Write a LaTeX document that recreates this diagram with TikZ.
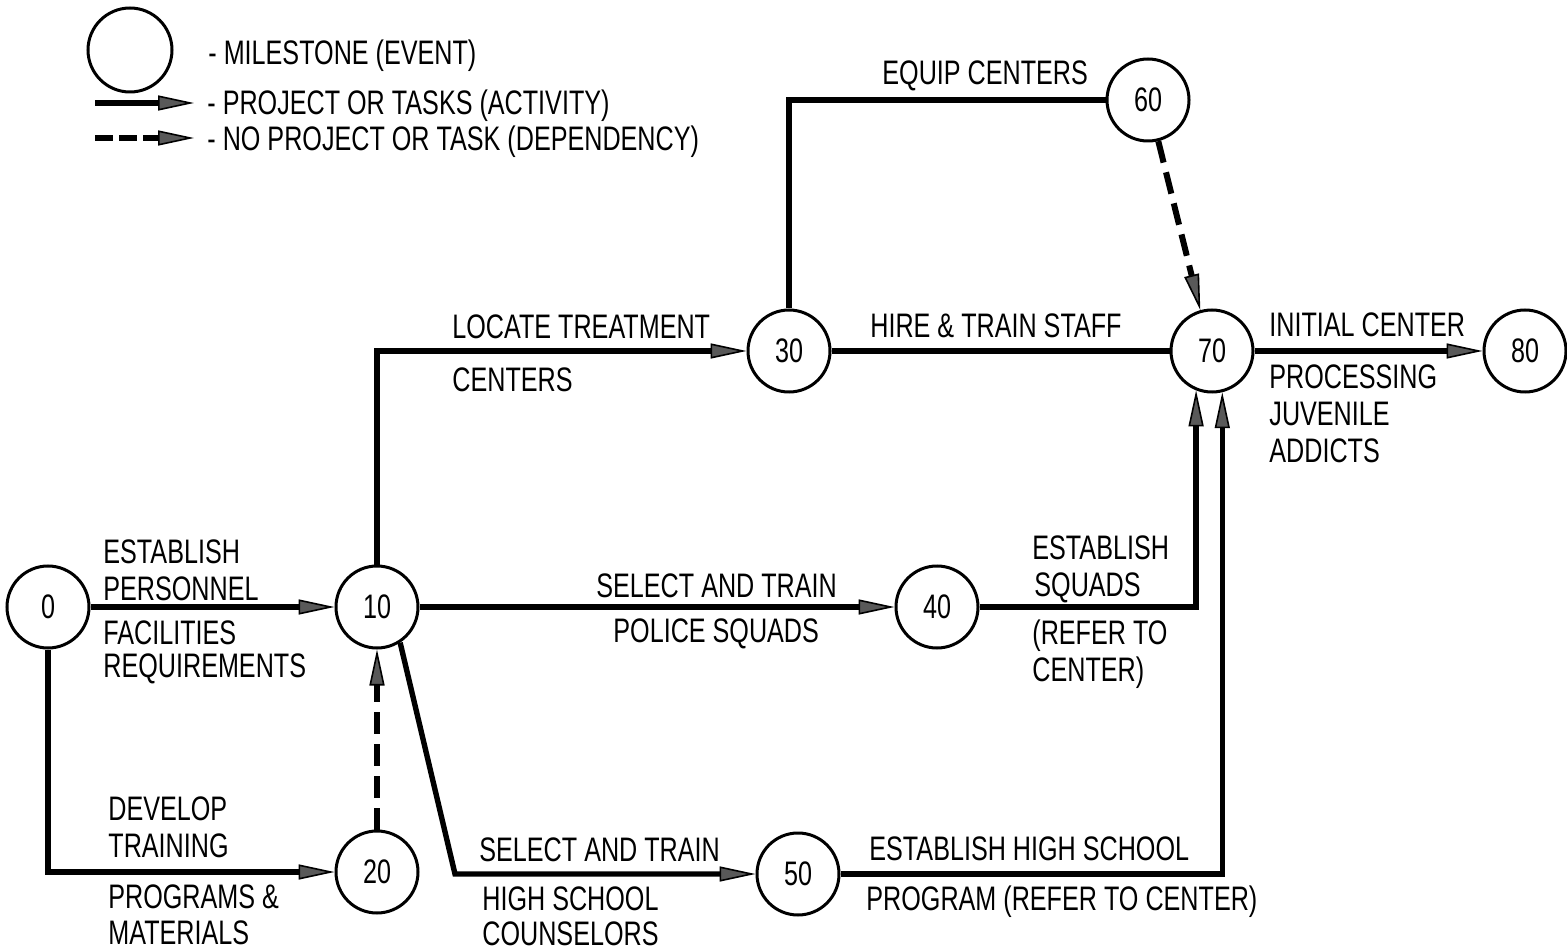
\documentclass[tikz,border=0pt]{standalone}
\usepackage{fontspec}
\setmainfont{Liberation Sans}[FakeStretch=0.74]
\usetikzlibrary{arrows.meta}
\newcommand\labfont{\fontsize{17pt}{20pt}\selectfont}
\begin{document}
\begin{tikzpicture}[x=0.5pt,y=-0.5pt,
  ev/.style={circle,draw,line width=1.5pt,minimum size=41pt,inner sep=0pt,font=\labfont},
  lab/.style={inner sep=0pt,anchor=base west,font=\labfont},
  arr/.style={-{Triangle[length=18pt,width=7.5pt,fill=black!65,line width=0.8pt]}},
  act/.style={line width=2.7pt,arr},
  actn/.style={line width=2.7pt},
  dep/.style={line width=3pt,dash pattern=on 11pt off 5pt,arr},
]
\useasboundingbox (0,0) rectangle (1567,951);

% legend
\node[ev,minimum size=42pt] (lgev) at (130,50) {};
\coordinate (la1) at (95,103); \coordinate (la2) at (194,103);
\coordinate (ld1) at (95,138); \coordinate (ld2) at (194,138);
\draw[act] (la1) -- (la2);
\draw[dep,dash pattern=on 9pt off 3pt] (ld1) -- (ld2);
\node[lab] (lg1) at (208,65) {- MILESTONE (EVENT)};
\node[lab] (lg2) at (207,115) {- PROJECT OR TASKS (ACTIVITY)};
\node[lab] (lg3) at (207,151) {- NO PROJECT OR TASK (DEPENDENCY)};

% events
\node[ev] (n0) at (48,607) {0};
\node[ev] (n10) at (377,607) {10};
\node[ev] (n20) at (377,872) {20};
\node[ev] (n30) at (789,351) {30};
\node[ev] (n40) at (937,607) {40};
\node[ev] (n50) at (798,874) {50};
\node[ev] (n60) at (1148,100) {60};
\node[ev] (n70) at (1212,351) {70};
\node[ev] (n80) at (1525,351) {80};

% activities
\draw[act] (n0) -- (n10);
\draw[act] (n0) |- (n20);
\draw[dep] (n20) -- (n10);
\draw[act] (n10) |- (n30);
\draw[act] (n10) -- (n40);
\coordinate (k50) at (455,874);
\draw[act] (n10.-57) -- (k50) -- (n50);
\draw[actn] (n30) |- (n60);
\draw[actn] (n30) -- (n70);
\draw[dep] (n60.-76) -- (n70.106);
\draw[act] (n40) -| (n70.248);
\draw[act] (n50) -| (n70.284);
\draw[act] (n70) -- (n80);

% labels
\node[lab] (t1) at (103,563) {ESTABLISH};
\node[lab] (t2) at (103,600) {PERSONNEL};
\node[lab] (t3) at (103,644) {FACILITIES};
\node[lab] (t4) at (103,677) {REQUIREMENTS};
\node[lab] (t5) at (108,820) {DEVELOP};
\node[lab] (t6) at (108,857) {TRAINING};
\node[lab] (t7) at (108,908) {PROGRAMS \&};
\node[lab] (t8) at (108,944) {MATERIALS};
\node[lab] (t9) at (452,339) {LOCATE TREATMENT};
\node[lab] (t10) at (452,392) {CENTERS};
\node[lab] (t11) at (882,85) {EQUIP CENTERS};
\node[lab] (t12) at (870,338) {HIRE \& TRAIN STAFF};
\node[lab] (t13) at (1269,337) {INITIAL CENTER};
\node[lab] (t14) at (1269,389) {PROCESSING};
\node[lab] (t15) at (1269,426) {JUVENILE};
\node[lab] (t16) at (1269,463) {ADDICTS};
\node[lab] (t17) at (596,597) {SELECT AND TRAIN};
\node[lab] (t18) at (613,642) {POLICE SQUADS};
\node[lab] (t19) at (1032,559) {ESTABLISH};
\node[lab] (t20) at (1034,596) {SQUADS};
\node[lab] (t21) at (1032,644) {(REFER TO};
\node[lab] (t22) at (1032,681) {CENTER)};
\node[lab] (t23) at (479,861) {SELECT AND TRAIN};
\node[lab] (t24) at (482,910) {HIGH SCHOOL};
\node[lab] (t25) at (482,945) {COUNSELORS};
\node[lab] (t26) at (869,860) {ESTABLISH HIGH SCHOOL};
\node[lab] (t27) at (866,910) {PROGRAM (REFER TO CENTER)};
\end{tikzpicture}
\end{document}
